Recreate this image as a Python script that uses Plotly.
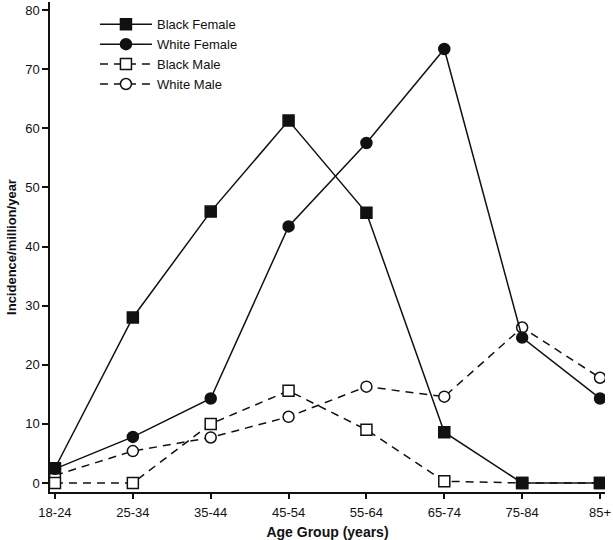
import plotly.graph_objects as go

age_groups = ["18-24", "25-34", "35-44", "45-54", "55-64", "65-74", "75-84", "85+"]
black_female = [2.5, 28.0, 45.9, 61.3, 45.7, 8.6, 0.0, 0.0]
white_female = [2.4, 7.8, 14.3, 43.4, 57.5, 73.4, 24.6, 14.3]
black_male = [0.0, 0.0, 10.0, 15.6, 9.0, 0.3, 0.0, 0.0]
white_male = [1.3, 5.4, 7.7, 11.2, 16.3, 14.6, 26.3, 17.8]

x = list(range(len(age_groups)))
ink = "#111111"

fig = go.Figure()

def add(name, y, symbol, dash, fill):
    fig.add_trace(go.Scatter(
        x=x, y=y, name=name, mode="lines+markers",
        line=dict(color=ink, width=1.5, dash=dash),
        marker=dict(symbol=symbol, size=11, color=fill,
                    line=dict(color=ink, width=1.5)),
    ))

add("White Male", white_male, "circle", "8px,6px", "white")
add("Black Male", black_male, "square", "8px,6px", "white")
add("White Female", white_female, "circle", "solid", ink)
add("Black Female", black_female, "square", "solid", ink)

fig.update_layout(
    width=613, height=540,
    margin=dict(l=50, r=8, t=2, b=48, autoexpand=False),
    paper_bgcolor="white", plot_bgcolor="white",
    font=dict(family="Liberation Sans, Arial, sans-serif", size=13, color=ink),
    showlegend=True,
    legend=dict(x=0.081, y=0.985, xanchor="left", yanchor="top",
                traceorder="reversed", bgcolor="rgba(0,0,0,0)",
                font=dict(size=13), tracegroupgap=0, itemwidth=52),
    xaxis=dict(
        range=[-0.064, 7.064], tickmode="array", tickvals=x, ticktext=age_groups,
        showgrid=False, zeroline=False, showline=True, linecolor=ink, linewidth=1.5,
        ticks="outside", ticklen=5, tickwidth=1.5, tickcolor=ink,
        ticklabelstandoff=3,
        title=dict(text="<b>Age Group (years)</b>", font=dict(size=14), standoff=10),
    ),
    yaxis=dict(
        range=[-1.52, 81.35], tickvals=[0, 10, 20, 30, 40, 50, 60, 70, 80],
        showgrid=False, zeroline=False, showline=True, linecolor=ink, linewidth=1.5,
        ticks="outside", ticklen=6, tickwidth=1.5, tickcolor=ink,
        title=dict(text="<b>Incidence/million/year</b>", font=dict(size=13), standoff=6),
    ),
)

fig.write_html("out.html", config={"displayModeBar": False},
               post_script="document.body.style.margin='0';")
